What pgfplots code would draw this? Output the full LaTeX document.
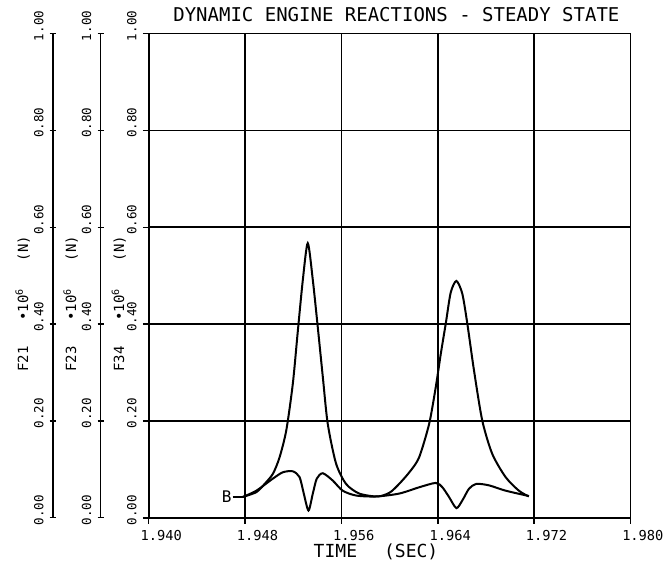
\documentclass[border=0pt]{standalone}
\usepackage{pgfplots}
\pgfplotsset{compat=1.18}
\usepackage{fontspec}
\setmainfont{DejaVu Sans Mono}

\pgfplotsset{
  plotter/.style={
    scale only axis, height=484.3pt,
    ymin=0, ymax=1,
    ytick={0,0.2,0.4,0.6,0.8,1},
    yticklabels={\phantom{00}0.00,\phantom{00}0.20,\phantom{00}0.40,\phantom{00}0.60,\phantom{00}0.80,\phantom{00}1.00},
    tick align=outside, major tick length=6pt,
    tick style={black, line width=1.4pt},
    yticklabel style={rotate=90, anchor=south, inner sep=0pt,
      font=\fontsize{12.5}{13}\selectfont},
    yticklabel shift=6pt,
    axis line style={black, line width=1.6pt},
  },
}

\begin{document}
\begin{tikzpicture}
\useasboundingbox (0,0) rectangle (665pt,563pt);

% F21 axis
\begin{axis}[plotter, at={(52.7pt,45.2pt)}, anchor=south west, width=20pt,
  xmin=0, xmax=1, axis x line=none, axis y line=left, axis line style={-}]
\end{axis}
% F23 axis
\begin{axis}[plotter, at={(100.5pt,45.2pt)}, anchor=south west, width=20pt,
  xmin=0, xmax=1, axis x line=none, axis y line=left, axis line style={-}]
\end{axis}

% F34 / main axis
\begin{axis}[plotter, at={(148.8pt,45.2pt)}, anchor=south west, width=481.7pt,
  xmin=1.940, xmax=1.980,
  xtick={1.940,1.948,1.956,1.964,1.972,1.980},
  xticklabels={\phantom{000}1.940,\phantom{000}1.948,\phantom{000}1.956,\phantom{000}1.964,\phantom{000}1.972,\phantom{000}1.980},
  xticklabel style={anchor=north, inner sep=0pt, font=\fontsize{13.7}{14}\selectfont},
  xticklabel shift=6pt,
  tick pos=left,
  grid=major, grid style={black, line width=1.6pt},
  title={DYNAMIC ENGINE REACTIONS - STEADY STATE},
  title style={at={(0.514,1)}, anchor=base, yshift=5.5pt, inner sep=0pt,
    font=\fontsize{19}{20}\selectfont},
  xlabel={TIME\hspace{27pt}(SEC)},
  xlabel style={at={(0.4717,0)}, anchor=base, yshift=-39.2pt, inner sep=0pt,
    font=\fontsize{18}{19}\selectfont},
]
% curve A: large peaks
\addplot[black, line width=2pt, smooth, tension=0.45] coordinates {
  (1.9478,0.043) (1.94893,0.053) (1.94962,0.070) (1.95031,0.091)
  (1.95086,0.125) (1.95142,0.181) (1.95196,0.277) (1.95238,0.387)
  (1.95279,0.491) (1.95320,0.567) (1.95362,0.491) (1.95403,0.394)
  (1.95445,0.291) (1.95486,0.194) (1.95555,0.112) (1.95638,0.070)
  (1.95748,0.050) (1.95900,0.044) (1.96000,0.052) (1.96079,0.070)
  (1.96170,0.096) (1.96245,0.125) (1.96328,0.194) (1.96383,0.270)
  (1.96425,0.339) (1.96466,0.401) (1.96507,0.465) (1.96554,0.489)
  (1.96603,0.463) (1.96645,0.401) (1.96700,0.305) (1.96769,0.201)
  (1.96852,0.132) (1.96963,0.084) (1.97073,0.056) (1.97156,0.044)
};
% curve B: small with dips
\addplot[black, line width=2pt, smooth, tension=0.45] coordinates {
  (1.9478,0.043) (1.94893,0.056) (1.95031,0.081) (1.95113,0.094)
  (1.95196,0.096) (1.95252,0.084) (1.95287,0.050) (1.95326,0.015)
  (1.95362,0.050) (1.95395,0.081) (1.95445,0.092) (1.95527,0.077)
  (1.95610,0.056) (1.95721,0.046) (1.95887,0.044) (1.96079,0.050)
  (1.96245,0.063) (1.96383,0.072) (1.96438,0.063) (1.96493,0.043)
  (1.96554,0.020) (1.96604,0.036) (1.96659,0.060) (1.96719,0.070)
  (1.96825,0.067) (1.96963,0.056) (1.97156,0.045)
};
% label lead
\addplot[black, line width=1.4pt] coordinates {(1.94697,0.043) (1.9478,0.043)}
  node[pos=0, anchor=east, inner sep=0.5pt, font=\fontsize{16}{17}\selectfont] {B};
\end{axis}

\node[rotate=90, anchor=base west, inner sep=0pt, font=\fontsize{14}{15}\selectfont]
  at (28pt,191pt) {F21\hspace{26pt}\textbullet10\raisebox{5pt}{\fontsize{10}{10}\selectfont 6}\hspace{28pt}(N)};
\node[rotate=90, anchor=base west, inner sep=0pt, font=\fontsize{14}{15}\selectfont]
  at (76pt,191pt) {F23\hspace{26pt}\textbullet10\raisebox{5pt}{\fontsize{10}{10}\selectfont 6}\hspace{28pt}(N)};
\node[rotate=90, anchor=base west, inner sep=0pt, font=\fontsize{14}{15}\selectfont]
  at (124pt,191pt) {F34\hspace{26pt}\textbullet10\raisebox{5pt}{\fontsize{10}{10}\selectfont 6}\hspace{28pt}(N)};
\end{tikzpicture}
\end{document}
